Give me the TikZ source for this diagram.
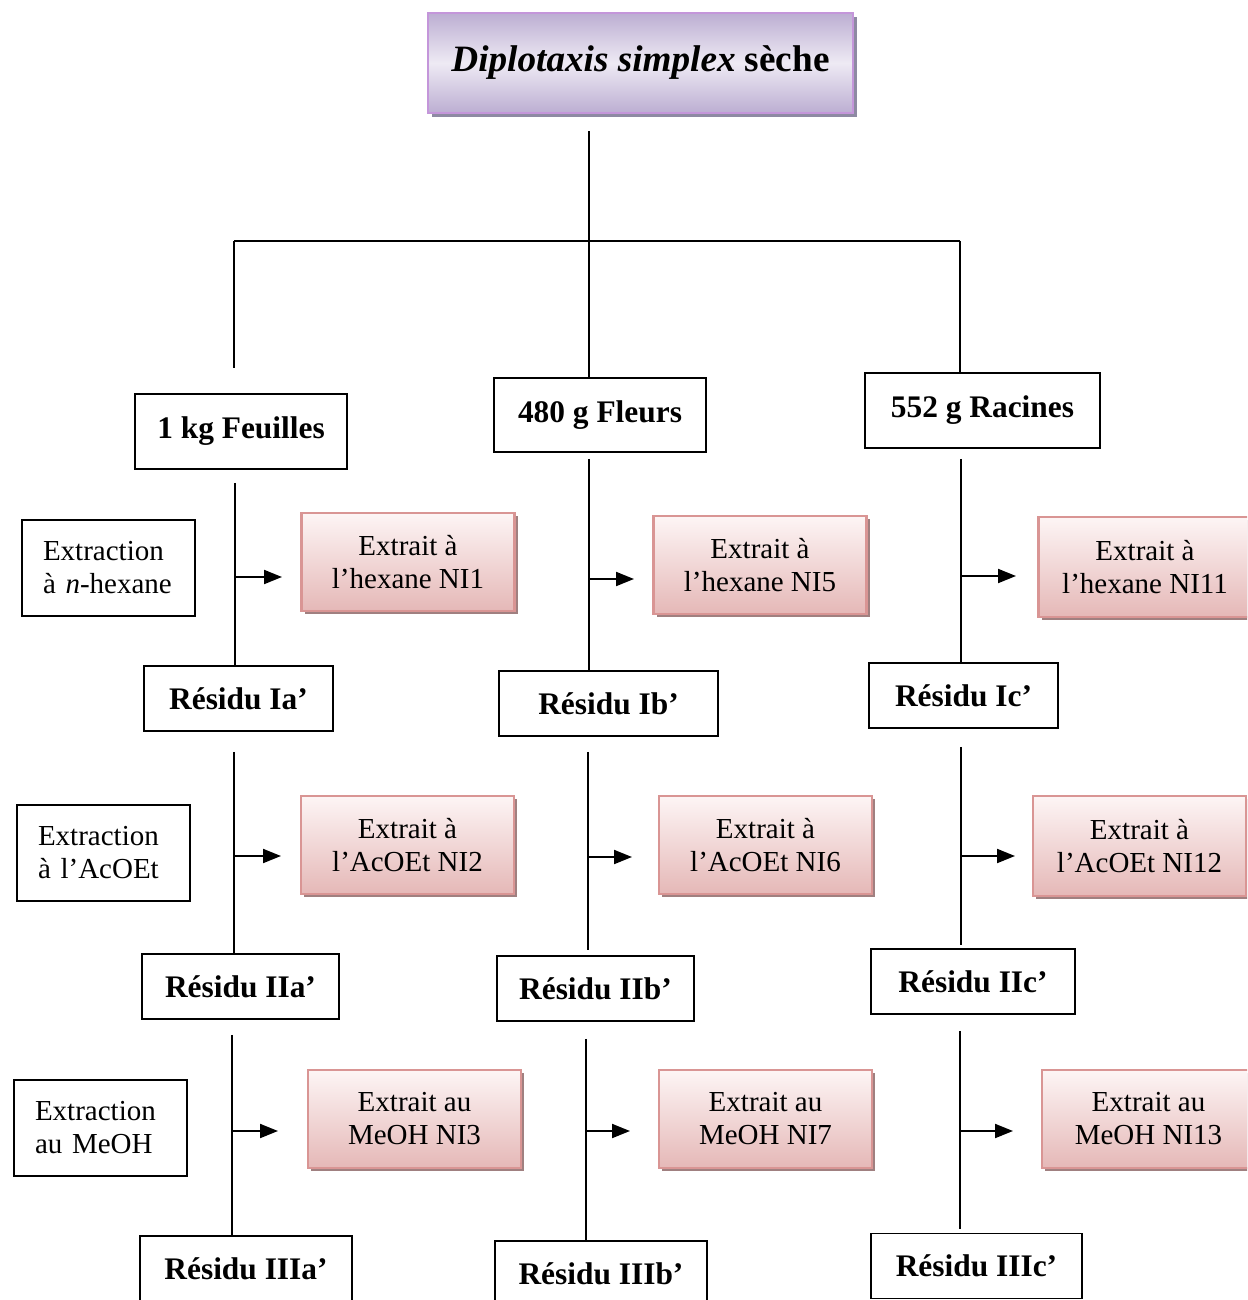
\documentclass[tikz,border=0pt]{standalone}
\usepackage{fontspec}
\setmainfont{Liberation Serif}
\usetikzlibrary{arrows.meta,shadows}

\definecolor{lavBord}{RGB}{196,150,218}
\definecolor{lavFonce}{RGB}{188,174,210}
\definecolor{lavClair}{RGB}{238,234,244}
\definecolor{lavOmbre}{RGB}{142,138,163}
\definecolor{roseBord}{RGB}{217,149,148}
\definecolor{roseHaut}{RGB}{253,245,245}
\definecolor{roseBas}{RGB}{229,184,183}
\definecolor{roseOmbre}{RGB}{160,128,128}

\begin{document}
\begin{tikzpicture}[x=0.5pt,y=-0.5pt,
    titre/.style={draw=lavBord, line width=1.2pt, top color=lavFonce, bottom color=lavFonce,
        middle color=lavClair, minimum width=212.5pt, minimum height=50pt,
        drop shadow={shadow xshift=2pt, shadow yshift=-2pt, fill=lavOmbre, opacity=1},
        font=\fontsize{18.6}{21}\selectfont},
    partie/.style={draw, line width=0.9pt, minimum height=37.5pt,
        font=\fontsize{15.7}{18}\selectfont\bfseries},
    residu/.style={draw, line width=0.9pt, minimum height=32.5pt,
        font=\fontsize{15.7}{18}\selectfont\bfseries},
    extrait/.style={draw=roseBord, line width=1.2pt, top color=roseHaut, bottom color=roseBas,
        minimum width=106.5pt, minimum height=49pt, align=center,
        drop shadow={shadow xshift=1.5pt, shadow yshift=-1.5pt, fill=roseOmbre, opacity=1},
        font=\fontsize{14.5}{16.5}\selectfont},
    solvant/.style={draw, line width=0.9pt, text width=65.5pt, inner xsep=10.5pt,
        minimum height=48pt, align=left, font=\fontsize{14.5}{16.5}\selectfont},
    trait/.style={line width=1pt},
    fleche/.style={line width=1pt, -{Triangle[length=9pt,width=7pt]}}]

    \useasboundingbox (0,0) rectangle (1247,1300);
    \clip (0,0) rectangle (1247,1300);

    % Titre
    \node[titre] (titre) at (640.5,63) {\textbf{\textit{Diplotaxis simplex} sèche}};

    % Parties de la plante
    \node[partie, minimum width=106pt] (feu) at (241,431.5) {1 kg Feuilles};
    \node[partie, minimum width=106pt, minimum height=37pt] (fle) at (600,415) {480 g Fleurs};
    \node[partie, minimum width=117.5pt] (rac) at (982.5,410.5) {552 g Racines};

    % Arbre principal
    \coordinate (jB) at (589,241);
    \coordinate (jA) at (234,241);
    \coordinate (jC) at (960,241);
    \draw[trait] ([yshift=-8.5pt]titre.south -| jB) -- (fle.north -| jB);
    \draw[trait] (jA) -- (jC);
    \draw[trait] (jA) -- ([yshift=12.5pt]feu.north -| jA);
    \draw[trait] (jC) -- (rac.north -| jC);

    % Solvants
    \node[solvant] (exA) at (108.5,568) {Extraction\\à \textit{n}-hexane};
    \node[solvant] (exB) at (103.5,853) {Extraction\\à l’AcOEt};
    \node[solvant] (exC) at (100.5,1128) {Extraction\\au MeOH};

    % Extraits
    \node[extrait] (ni1) at (408,562) {Extrait à\\l’hexane NI1};
    \node[extrait] (ni5) at (760,565) {Extrait à\\l’hexane NI5};
    \node[extrait, minimum height=50pt] (ni11) at (1145,567) {Extrait à\\l’hexane NI11};
    \node[extrait] (ni2) at (407.5,845) {Extrait à\\l’AcOEt NI2};
    \node[extrait] (ni6) at (765.5,845) {Extrait à\\l’AcOEt NI6};
    \node[extrait, minimum height=50pt] (ni12) at (1139.5,846) {Extrait à\\l’AcOEt NI12};
    \node[extrait] (ni3) at (414.5,1119) {Extrait au\\MeOH NI3};
    \node[extrait] (ni7) at (765.5,1119) {Extrait au\\MeOH NI7};
    \node[extrait] (ni13) at (1148.5,1119) {Extrait au\\MeOH NI13};

    % Residus
    \node[residu, minimum width=94.5pt] (ria) at (238.5,698.5) {Résidu Ia’};
    \node[residu, minimum width=109.5pt] (rib) at (608.5,703.5) {Résidu Ib’};
    \node[residu, minimum width=94.5pt] (ric) at (963.5,695.5) {Résidu Ic’};
    \node[residu, minimum width=98.5pt] (riia) at (240.5,986.5) {Résidu IIa’};
    \node[residu, minimum width=98.5pt] (riib) at (595.5,988.5) {Résidu IIb’};
    \node[residu, minimum width=102pt] (riic) at (973,981.5) {Résidu IIc’};
    \node[residu, minimum width=106pt] (riiia) at (246,1268.5) {Résidu IIIa’};
    \node[residu, minimum width=106pt] (riiib) at (601,1273.5) {Résidu IIIb’};
    \node[residu, minimum width=105.5pt] (riiic) at (976.5,1266) {Résidu IIIc’};

    % Points de branchement et pointes des fleches
    \coordinate (a1) at (235,577);  \coordinate (t1) at (282,577);
    \coordinate (a2) at (234,856);  \coordinate (t2) at (281,856);
    \coordinate (a3) at (232,1131); \coordinate (t3) at (278,1131);
    \coordinate (b1) at (589,579);  \coordinate (u1) at (634,579);
    \coordinate (b2) at (588,857);  \coordinate (u2) at (632,857);
    \coordinate (b3) at (586,1131); \coordinate (u3) at (630,1131);
    \coordinate (c1) at (961,576);  \coordinate (v1) at (1016,576);
    \coordinate (c2) at (961,856);  \coordinate (v2) at (1015,856);
    \coordinate (c3) at (960,1131); \coordinate (v3) at (1013,1131);

    % Colonne Feuilles
    \draw[trait, shorten <=6.5pt] (feu.south -| a1) -- (ria.north -| a1);
    \draw[fleche] (a1) -- (t1);
    \draw[trait, shorten <=10pt] (ria.south -| a2) -- (riia.north -| a2);
    \draw[fleche] (a2) -- (t2);
    \draw[trait, shorten <=7.5pt] (riia.south -| a3) -- (riiia.north -| a3);
    \draw[fleche] (a3) -- (t3);

    % Colonne Fleurs
    \draw[trait, shorten <=3pt] (fle.south -| b1) -- (rib.north -| b1);
    \draw[fleche] (b1) -- (u1);
    \draw[trait, shorten <=7.5pt, shorten >=2.5pt] (rib.south -| b2) -- (riib.north -| b2);
    \draw[fleche] (b2) -- (u2);
    \draw[trait, shorten <=8.5pt] (riib.south -| b3) -- (riiib.north -| b3);
    \draw[fleche] (b3) -- (u3);

    % Colonne Racines
    \draw[trait, shorten <=5pt] (rac.south -| c1) -- (ric.north -| c1);
    \draw[fleche] (c1) -- (v1);
    \draw[trait, shorten <=9pt, shorten >=1.5pt] (ric.south -| c2) -- (riic.north -| c2);
    \draw[fleche] (c2) -- (v2);
    \draw[trait, shorten <=8pt, shorten >=2pt] (riic.south -| c3) -- (riiic.north -| c3);
    \draw[fleche] (c3) -- (v3);
\end{tikzpicture}
\end{document}
